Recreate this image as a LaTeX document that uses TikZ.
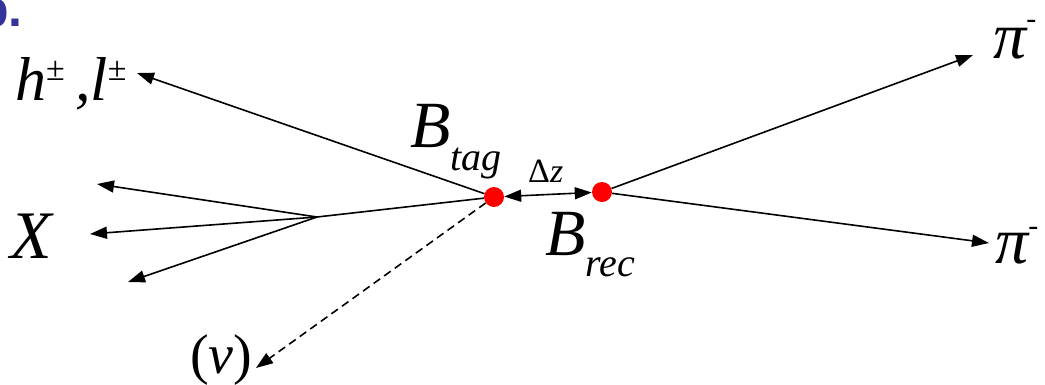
\documentclass[tikz,border=0pt]{standalone}
\usepackage{fontspec}
\setmainfont{Liberation Serif}
\newfontfamily\headfont{Liberation Sans}
\usetikzlibrary{arrows.meta}
\definecolor{headblue}{RGB}{51,51,153}
\newcommand{\fs}[1]{\fontsize{#1}{#1}\selectfont}

\begin{document}
\begin{tikzpicture}[
  x=1pt, y=-1pt, >={Triangle[length=17pt,width=12pt]},
  trk/.style={->,line width=1.6pt},
  leg/.style={line width=1.6pt},
  vtx/.style={circle,fill=red,inner sep=0pt,minimum size=20pt},
  lbl/.style={inner sep=0pt,anchor=base west},
]
\useasboundingbox (0,0) rectangle (1045,384);
% vertices
\node[vtx] (vtag) at (494,197) {};
\node[vtx] (vrec) at (602,192) {};
% labels
\node[lbl,font=\fs{62}] (hl) at (15,100) {\itshape h\raisebox{20pt}{\upshape\fs{34}±}\,,l\raisebox{20pt}{\upshape\fs{34}±}};
\node[lbl,font=\fs{68}] (xlab) at (10,258) {\itshape X};
\node[lbl,font=\fs{56}] (nu) at (190,373) {(\itshape ν\upshape )};
\node[lbl,font=\fs{66}] (btag) at (410,147) {\itshape B\raisebox{-23pt}{\fs{40}tag}};
\node[lbl,font=\fs{66}] (brec) at (545,255) {\itshape B\raisebox{-21pt}{\fs{40}rec}};
\node[lbl,font=\fs{34}] (dz) at (528,182) {Δ\itshape z};
\node[lbl,font=\fs{66}] (pia) at (993,58) {\itshape π\raisebox{30pt}{\upshape\fs{30}-}};
\node[lbl,font=\fs{66}] (pib) at (995,263) {\itshape π\raisebox{28pt}{\upshape\fs{30}-}};
\node[lbl,font=\headfont\bfseries\fs{50},text=headblue] (head) at (-22,26) {b.};
% track ends
\coordinate (split) at (317,217);
\coordinate (hltip) at (137,73);
\coordinate (xtipa) at (97,184);
\coordinate (xtipb) at (90,234);
\coordinate (xtipc) at (128,282);
\coordinate (nutip) at (256,368);
\coordinate (pitipa) at (973,55);
\coordinate (pitipb) at (989,243);
% tag side
\draw[trk] (vtag) -- (hltip);
\draw[leg] (vtag) -- (split);
\draw[trk] (split) -- (xtipa);
\draw[trk] (split) -- (xtipb);
\draw[trk] (split) -- (xtipc);
\draw[trk,dash pattern=on 8pt off 5pt] (vtag) -- (nutip);
% rec side
\draw[<->,leg] (vtag) -- (vrec);
\draw[trk] (vrec) -- (pitipa);
\draw[trk] (vrec) -- (pitipb);
\end{tikzpicture}
\end{document}
